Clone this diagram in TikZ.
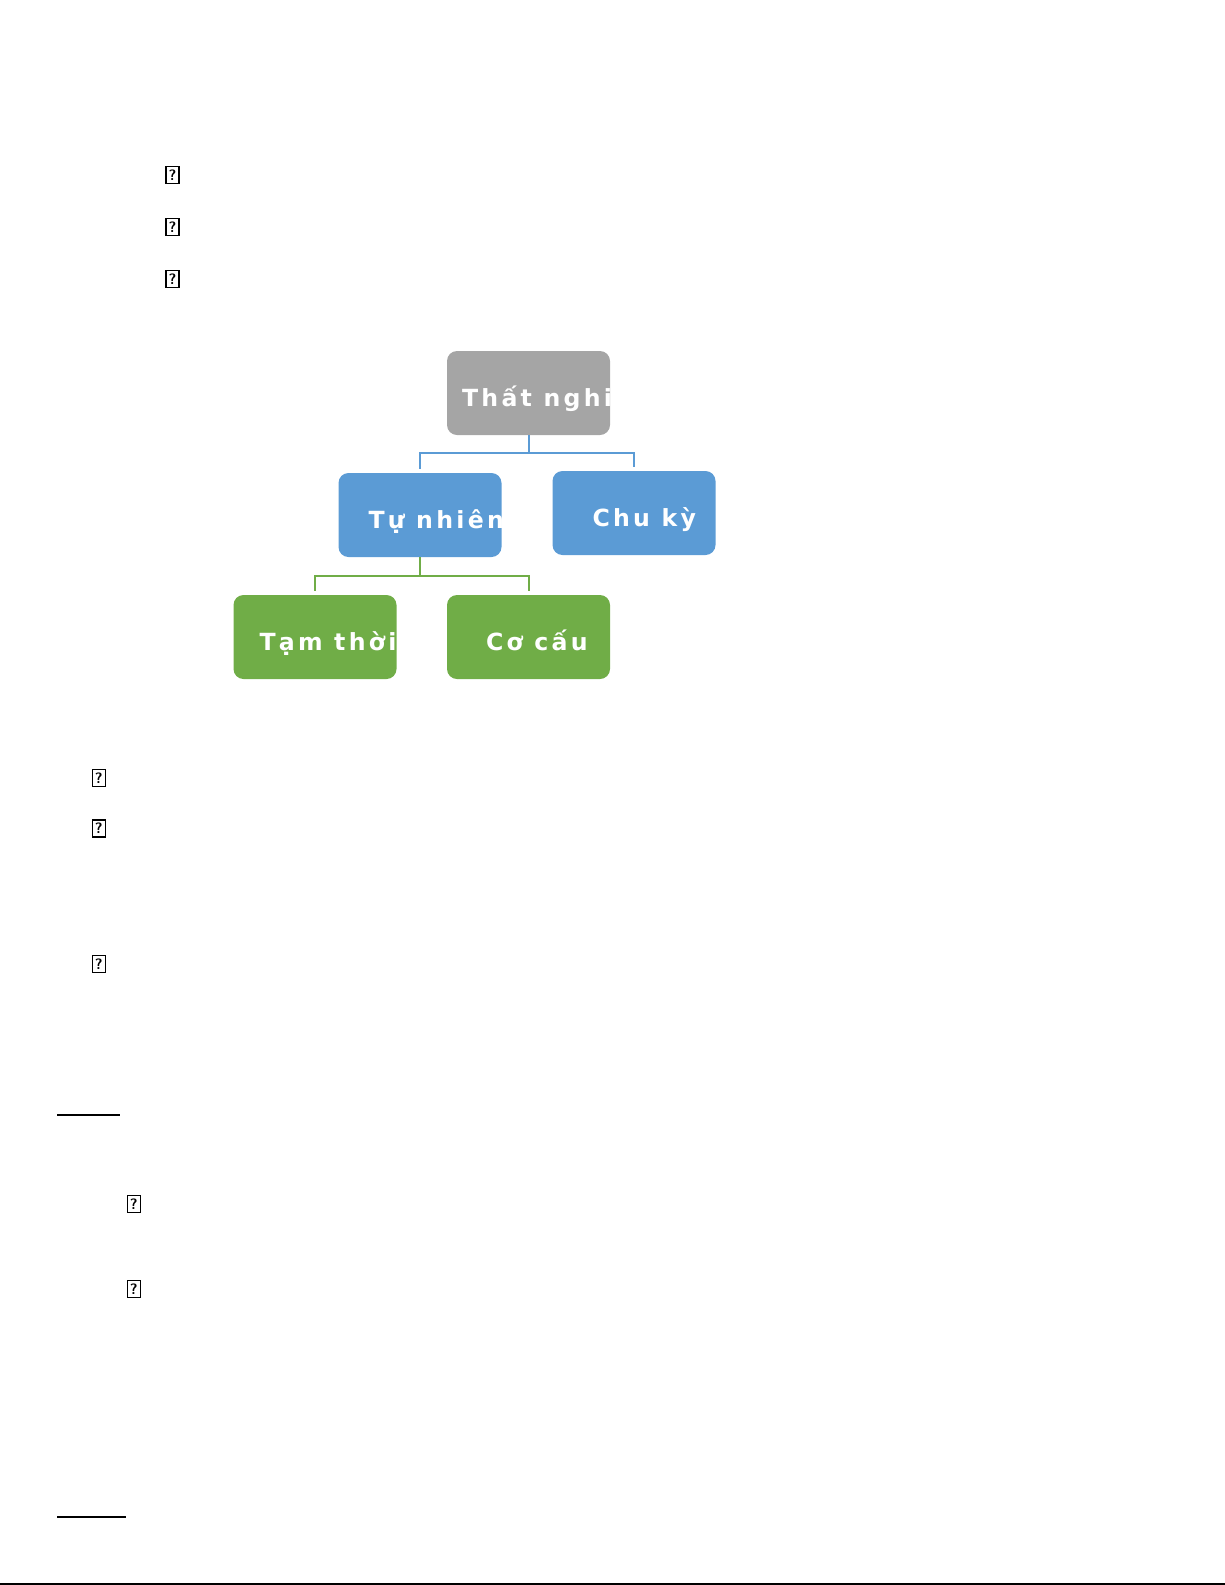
\documentclass[tikz,border=0pt]{standalone}
\usepackage{fontspec}
\usepackage{xcolor}
\usepackage{tikz}
\usetikzlibrary{positioning,calc}

\newfontfamily\boxfont[LetterSpace=14]{DejaVu Sans}
\definecolor{rootgray}{HTML}{A5A5A5}
\definecolor{levelblue}{HTML}{5B9BD5}
\definecolor{levelgreen}{HTML}{70AD47}

\begin{document}
\begin{tikzpicture}[
  x=0.5pt, y=-0.5pt,
  box/.style={rounded corners=5pt, minimum width=81.5pt, minimum height=42pt, inner sep=0pt},
  boxlabel/.style={anchor=base west, inner sep=0pt, text=white,
    font=\boxfont\bfseries\fontsize{11.8}{13}\selectfont},
  missing/.style={draw, line width=0.7pt, minimum width=6.5pt, minimum height=8.5pt,
    inner sep=0pt, font=\sffamily\bfseries\fontsize{7.5}{7.5}\selectfont},
  link/.style={line width=1pt}
]
  \useasboundingbox (0,0) rectangle (1225,1585);

  % boxes
  \node[box, fill=rootgray] (root) at (528.5,393) {};
  \node[box, fill=levelblue] (natural) at (420,515) {};
  \node[box, fill=levelblue] (cyclic) at (634,513) {};
  \node[box, fill=levelgreen] (frictional) at (315,637) {};
  \node[box, fill=levelgreen] (structural) at (528.5,637) {};

  % labels, cut off at the box edge
  \foreach \b/\dx/\t in {root/7.5pt/Thất nghiệp, natural/15pt/Tự nhiên, cyclic/20pt/Chu kỳ,
      frictional/13pt/Tạm thời, structural/19.5pt/Cơ cấu} {
    \begin{scope}
      \clip[rounded corners=5pt] (\b.south west) rectangle (\b.north east);
      \node[boxlabel] (\b-text) at ([xshift=\dx, yshift=-6.5pt]\b.west) {\t};
    \end{scope}
  }

  \draw[link, levelblue] (root.south) -- ++(0,-8.85pt) -| ([yshift=2pt]natural.north);
  \draw[link, levelblue] (root.south) -- ++(0,-8.85pt) -| ([yshift=2pt]cyclic.north);
  \draw[link, levelgreen] (natural.south) -- ++(0,-9.5pt) -| ([yshift=2pt]frictional.north);
  \draw[link, levelgreen] (natural.south) -- ++(0,-9.5pt) -| ([yshift=2pt]structural.north);

  % missing glyphs
  \foreach \y [count=\i] in {175,227,279}
    \node[missing] (qa\i) at (172.5,\y) {?};
  \foreach \y [count=\i] in {778,828.5,964}
    \node[missing] (qb\i) at (98.7,\y) {?};
  \foreach \y [count=\i] in {1204,1289}
    \node[missing] (qc\i) at (133.7,\y) {?};

  % rules
  \draw[line width=0.8pt] (57.3,1115) -- (120,1115);
  \draw[line width=0.8pt] (57.3,1517) -- (125.7,1517);
  \draw[line width=1pt] (0,1584) -- (1225,1584);
\end{tikzpicture}
\end{document}
